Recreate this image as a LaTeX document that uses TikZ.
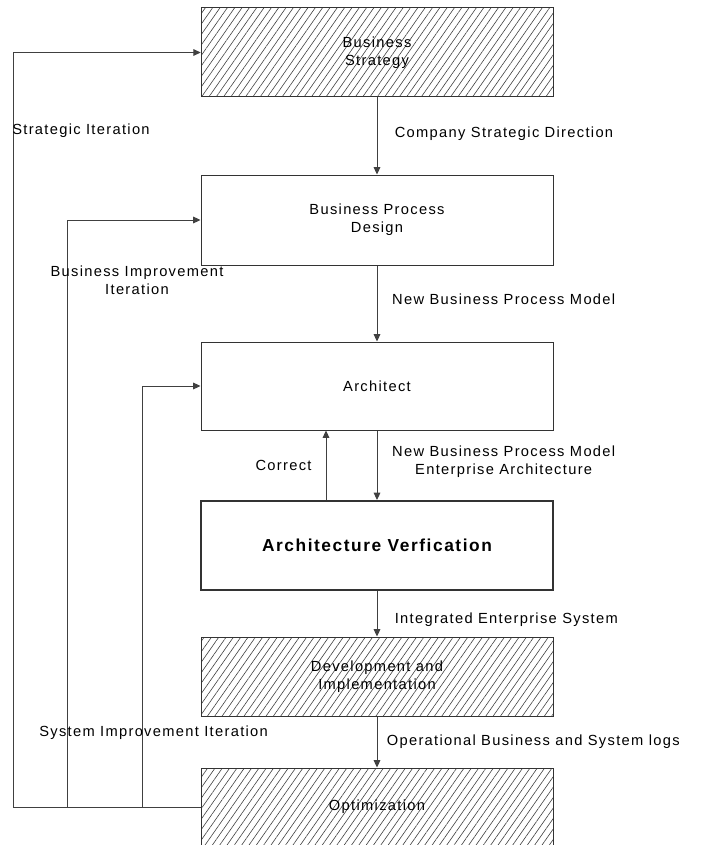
\documentclass[tikz,border=0pt]{standalone}
\usepackage{fontspec}
\setmainfont{Liberation Sans}[LetterSpace=9]
\usetikzlibrary{calc, positioning, arrows.meta, patterns.meta}

\tikzset{
  stage/.style={draw=black!80, line width=0.75pt, minimum width=264pt, align=center,
    font=\fontsize{11}{13.5}\selectfont},
  hatched/.style={stage, pattern={Lines[angle=55, distance=4.5pt, line width=0.45pt]},
    pattern color=black!75},
  flow/.style={draw=black!75, line width=0.75pt, -{Triangle[length=5.5pt, width=5pt]}},
  lbl/.style={inner sep=0pt, align=center, font=\fontsize{11}{13.5}\selectfont},
}

\begin{document}
\begin{tikzpicture}[x=0.75pt, y=-0.75pt]
    \useasboundingbox (0,0) rectangle (702,845);

    \node[hatched, minimum height=66.75pt] (strategy) at (377,52.5) {Business\\Strategy};
    \node[stage, minimum height=67.5pt] (design) at (377,220) {Business Process\\Design};
    \node[stage, minimum height=66pt] (architect) at (377,386) {Architect};
    \node[stage, line width=1.5pt, minimum height=66.75pt,
          font=\fontsize{13}{15}\selectfont\bfseries] (verify) at (377,545.5) {Architecture Verfication};
    \node[hatched, minimum height=59.25pt] (develop) at (377,676.5) {Development and\\Implementation};
    \node[hatched, minimum height=58.5pt] (optimize) at (377,807) {Optimization};

    \draw[flow] (strategy) -- node[lbl, right=13pt, yshift=1.5pt] {Company Strategic Direction} (design);
    \draw[flow] (design) -- node[lbl, right=11pt, yshift=3pt] {New Business Process Model} (architect);
    \draw[flow] (architect) -- node[lbl, right=11pt, yshift=3pt] {New Business Process Model\\Enterprise Architecture} (verify);
    \draw[flow] ($(verify.north)+(-51,0)$) -- node[lbl, left=10.5pt] {Correct} ($(architect.south)+(-51,0)$);
    \draw[flow] (verify) -- node[lbl, right=13pt, yshift=-4.5pt] {Integrated Enterprise System} (develop);
    \draw[flow] (develop) -- node[lbl, right=7pt] {Operational Business and System logs} (optimize);

    \draw[flow] (optimize.west) -- ++(-187,0) |- (strategy.west);
    \draw[flow] (optimize.west) -- ++(-133,0) |- (design.west);
    \draw[flow] (optimize.west) -- ++(-58,0) |- (architect.west);

    \node[lbl, anchor=west] (stratlbl) at (12,131) {Strategic Iteration};
    \node[lbl] (busilbl) at (137,280) {Business Improvement\\Iteration};
    \node[lbl, anchor=west] (syslbl) at (39,733) {System Improvement Iteration};
\end{tikzpicture}
\end{document}
